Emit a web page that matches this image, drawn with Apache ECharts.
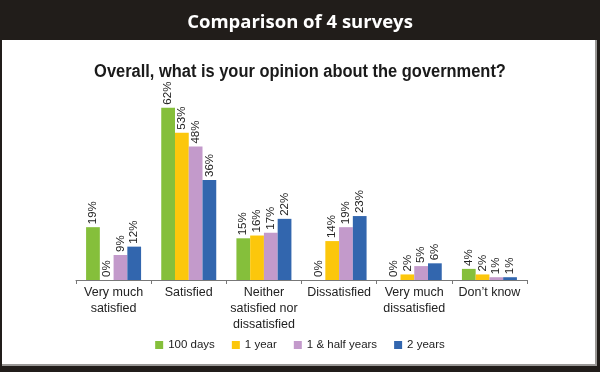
<!DOCTYPE html>
<html>
<head>
<meta charset="utf-8">
<script src="https://cdn.jsdelivr.net/npm/echarts@6/dist/echarts.min.js"></script>
<style>
html,body{margin:0;padding:0;background:#fff;}
#chart{width:600px;height:372px;}
</style>
</head>
<body>
<div id="chart"></div>
<script>
var categories = ['Very much\nsatisfied', 'Satisfied', 'Neither\nsatisfied nor\ndissatisfied', 'Dissatisfied', 'Very much\ndissatisfied', 'Don\u2019t know'];
var seriesNames = ['100 days', '1 year', '1 & half years', '2 years'];
var days100 = [19, 62, 15, 0, 0, 4];
var year1 = [0, 53, 16, 14, 2, 2];
var yearHalf = [9, 48, 17, 19, 5, 1];
var years2 = [12, 36, 22, 23, 6, 1];
var colors = ['#85bf3b', '#fcc70c', '#c39acb', '#3266ae'];
var titleText = 'Comparison of 4 surveys';
var subtitleText = 'Overall, what is your opinion about the government?';

var sans = '"Liberation Sans", Arial, sans-serif';
var chart = echarts.init(document.getElementById('chart'), null, {renderer: 'canvas'});
var values = [days100, year1, yearHalf, years2];
var series = values.map(function (v, i) {
  return {
    name: seriesNames[i],
    type: 'bar',
    data: v,
    barWidth: 13.75,
    barGap: '0%',
    itemStyle: {color: colors[i]},
    label: {
      show: true,
      position: 'top',
      rotate: 90,
      align: 'left',
      verticalAlign: 'middle',
      distance: 3,
      formatter: '{c}%',
      fontFamily: sans,
      fontSize: 11.5,
      color: '#222'
    }
  };
});
chart.setOption({
  animation: false,
  graphic: [
    {type: 'rect', z: -10, shape: {x: 0, y: 0, width: 600, height: 372}, style: {fill: '#211d1a'}},
    {type: 'rect', z: -9, shape: {x: 2, y: 40, width: 595, height: 326}, style: {fill: '#9a9896'}},
    {type: 'rect', z: -8, shape: {x: 2, y: 40, width: 593, height: 324}, style: {fill: '#ffffff'}},
    {type: 'text', z: 10, x: 300, y: 72, scaleX: 0.913,
      style: {text: subtitleText, fill: '#1a1a1a', font: 'bold 18px "Liberation Sans", Arial, sans-serif', textAlign: 'center', textVerticalAlign: 'middle'}}
  ],
  title: [
    {text: titleText, left: 'center', top: 8, textStyle: {color: '#fff', fontFamily: '"Open Sans", sans-serif', fontWeight: 'bold', fontSize: 18.5}}
  ],
  legend: {
    data: seriesNames,
    top: 334,
    left: 'center',
    icon: 'rect',
    itemWidth: 8,
    itemHeight: 8,
    itemGap: 17,
    textStyle: {fontFamily: sans, fontSize: 11.5, color: '#222'}
  },
  grid: {left: 76, right: 73, top: 85.4, bottom: 92, containLabel: false},
  xAxis: {
    type: 'category',
    data: categories,
    axisLine: {lineStyle: {color: '#777', width: 1}},
    axisTick: {show: true, length: 4, lineStyle: {color: '#777'}},
    axisLabel: {fontFamily: sans, fontSize: 12.5, color: '#222', lineHeight: 16, margin: 5, interval: 0}
  },
  yAxis: {type: 'value', min: 0, max: 70, show: false, splitLine: {show: false}},
  series: series
});
</script>
</body>
</html>
